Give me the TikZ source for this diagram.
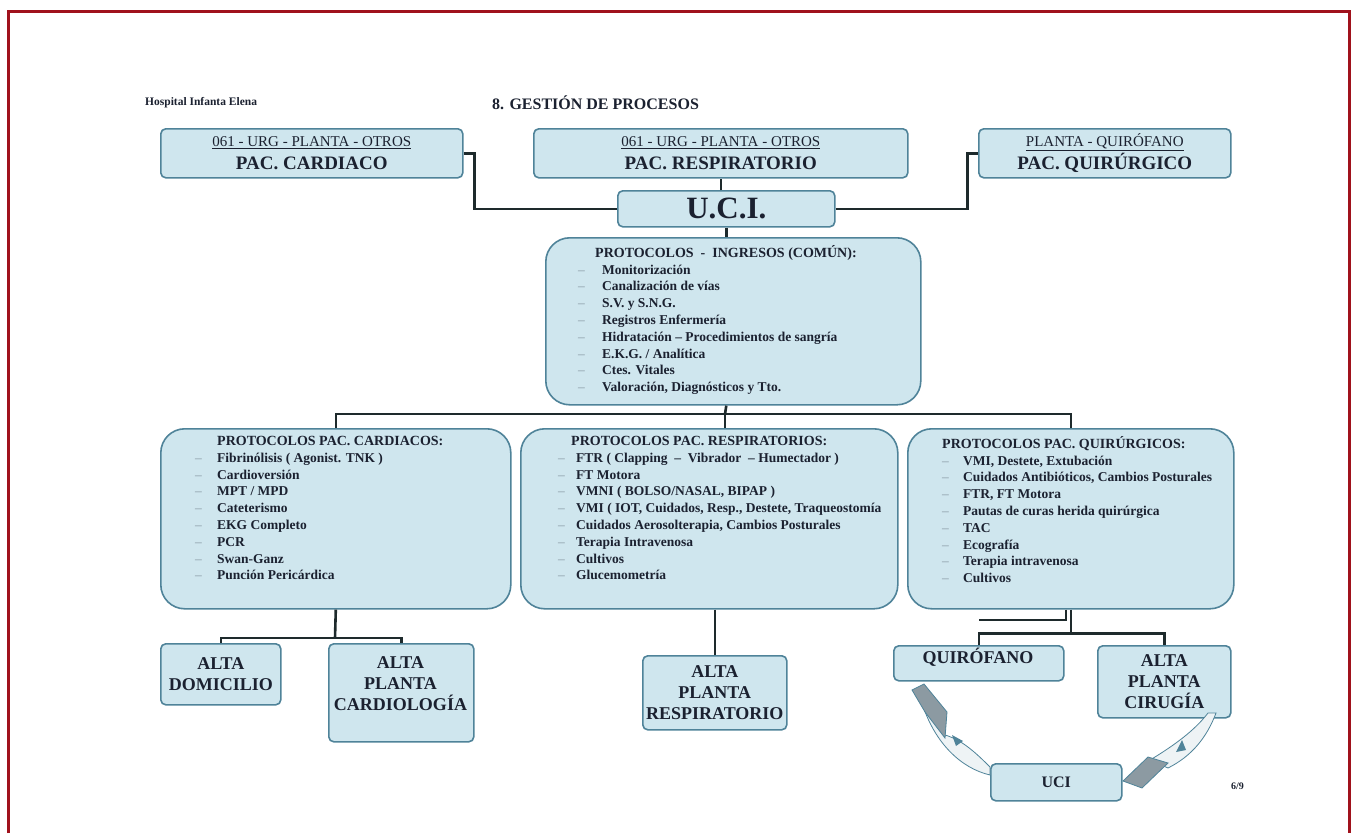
\documentclass[tikz,border=0pt]{standalone}
\usepackage{fontspec}
\setmainfont{Liberation Serif}
\usetikzlibrary{arrows.meta}
\definecolor{boxfill}{HTML}{CFE6EE}
\definecolor{boxline}{HTML}{4F8399}
\definecolor{connc}{HTML}{1E2A2C}
\definecolor{txt}{HTML}{1B2130}
\definecolor{framec}{HTML}{A0121C}
\definecolor{bulc}{HTML}{8A9AA6}
\definecolor{ribgray}{HTML}{8C9AA2}
\definecolor{ribfill}{HTML}{EEF3F5}
\newcommand\itm[2]{\makebox[#1pt][l]{\textcolor{bulc}{\mdseries –}}#2}
\newcommand\ptitle[1]{{\fontsize{14}{16.8}\selectfont #1}}
\begin{document}
\begin{tikzpicture}[x=1pt,y=-1pt,
  box/.style={draw=boxline, fill=boxfill, line width=1.6pt, rounded corners=5pt,
    anchor=north west, inner sep=0pt, text=txt, align=center},
  bigbox/.style={box, rounded corners=24pt},
  conn/.style={draw=connc, line width=2.6pt},
  lst/.style={anchor=north west, inner sep=0pt, align=left, text=txt,
    font=\fontsize{13.5}{16.8}\selectfont\bfseries},
  btxt/.style={inner sep=0pt, align=center, text=txt,
    font=\fontsize{18}{21}\selectfont\bfseries},
  toptxt/.style={font=\fontsize{19}{23}\selectfont\bfseries},
]
\useasboundingbox (0,0) rectangle (1357,833);
\fill[white] (0,0) rectangle (1357,833);
\draw[framec, line width=3pt] (8,833) -- (8,11) -- (1349,11) -- (1349,833);

% header
\node[anchor=west, inner sep=0pt, text=txt, font=\fontsize{11.5}{13}\selectfont\bfseries] (hosp) at (145,103) {Hospital Infanta Elena};
\node[anchor=west, inner sep=0pt, text=txt, font=\fontsize{16}{18}\selectfont\bfseries] (title) at (492,103) {8. GESTIÓN DE PROCESOS};

% top boxes
\node[box, toptxt, minimum width=302pt, minimum height=49pt] (pc) at (160,128)
  {{\fontsize{15}{17}\selectfont\mdseries\underline{061 - URG - PLANTA - OTROS}}\\ PAC. CARDIACO};
\node[box, toptxt, minimum width=374pt, minimum height=49pt] (pr) at (533,128)
  {{\fontsize{15}{17}\selectfont\mdseries\underline{061 - URG - PLANTA - OTROS}}\\ PAC. RESPIRATORIO};
\node[box, toptxt, minimum width=252pt, minimum height=49pt] (pq) at (978,128)
  {{\fontsize{15}{17}\selectfont\mdseries\underline{PLANTA - QUIRÓFANO}}\\ PAC. QUIRÚRGICO};

\node[box, minimum width=217pt, minimum height=36pt, font=\fontsize{31}{31}\selectfont\bfseries] (uci) at (617,190) {U.C.I.};

% common protocols
\node[bigbox, minimum width=375pt, minimum height=167pt] (com) at (545,237) {};
\node[lst] (comtxt) at (578,245) {\hspace*{17pt}\ptitle{PROTOCOLOS \ - \ INGRESOS (COMÚN):}\\
\itm{24}{Monitorización}\\
\itm{24}{Canalización de vías}\\
\itm{24}{S.V. y S.N.G.}\\
\itm{24}{Registros Enfermería}\\
\itm{24}{Hidratación – Procedimientos de sangría}\\
\itm{24}{E.K.G. / Analítica}\\
\itm{24}{Ctes. Vitales}\\
\itm{24}{Valoración, Diagnósticos y Tto.}};

% three protocol boxes
\node[bigbox, minimum width=350pt, minimum height=180pt] (pl) at (160,428) {};
\node[lst] (pltxt) at (195,436) {\hspace*{22pt}\ptitle{PROTOCOLOS PAC. CARDIACOS:}\\
\itm{22}{Fibrinólisis ( Agonist. TNK )}\\
\itm{22}{Cardioversión}\\
\itm{22}{MPT / MPD}\\
\itm{22}{Cateterismo}\\
\itm{22}{EKG Completo}\\
\itm{22}{PCR}\\
\itm{22}{Swan-Ganz}\\
\itm{22}{Punción Pericárdica}};

\node[bigbox, minimum width=377pt, minimum height=180pt] (pm) at (520,428) {};
\node[lst] (pmtxt) at (558,436) {\hspace*{13pt}\ptitle{PROTOCOLOS PAC. RESPIRATORIOS:}\\
\itm{18}{FTR ( Clapping \ – \ Vibrador \ – Humectador )}\\
\itm{18}{FT Motora}\\
\itm{18}{VMNI ( BOLSO/NASAL, BIPAP )}\\
\itm{18}{VMI ( IOT, Cuidados, Resp., Destete, Traqueostomía}\\
\itm{18}{Cuidados Aerosolterapia, Cambios Posturales}\\
\itm{18}{Terapia Intravenosa}\\
\itm{18}{Cultivos}\\
\itm{18}{Glucemometría}};

\node[bigbox, minimum width=326pt, minimum height=180pt] (pr2) at (907,428) {};
\node[lst] (pr2txt) at (942,436) {\ptitle{PROTOCOLOS PAC. QUIRÚRGICOS:}\\
\itm{21}{VMI, Destete, Extubación}\\
\itm{21}{Cuidados Antibióticos, Cambios Posturales}\\
\itm{21}{FTR, FT Motora}\\
\itm{21}{Pautas de curas herida quirúrgica}\\
\itm{21}{TAC}\\
\itm{21}{Ecografía}\\
\itm{21}{Terapia intravenosa}\\
\itm{21}{Cultivos}};

% bottom boxes
\node[box, btxt, minimum width=120pt, minimum height=61pt] (ad) at (160,643) {ALTA\\DOMICILIO};
\node[box, minimum width=145pt, minimum height=98pt] (apc) at (328,643) {};
\node[btxt] (apct) at (400.5,684) {ALTA\\PLANTA\\CARDIOLOGÍA};
\node[box, btxt, minimum width=144pt, minimum height=74pt] (apr) at (642,655) {ALTA\\PLANTA\\RESPIRATORIO};
\node[box, minimum width=170pt, minimum height=35pt] (quir) at (893,645) {};
\node[btxt] (quirt) at (978,657) {QUIRÓFANO};
\node[box, btxt, minimum width=133pt, minimum height=72pt] (apcir) at (1097,645) {ALTA\\PLANTA\\CIRUGÍA};
\node[box, minimum width=131pt, minimum height=37pt, font=\fontsize{16}{18}\selectfont\bfseries] (uci2) at (990,763) {UCI};

\node[anchor=west, inner sep=0pt, text=txt, font=\fontsize{10}{12}\selectfont\bfseries] (pg) at (1231,786) {6/9};

% connectors
\draw[conn] (pc.east) -- ++(11,0) |- (uci.west);
\draw[conn] (uci.north -| pr.south) -- (pr.south);
\draw[conn] (uci.east) -- ++(132,0) |- (pq.west);
\draw[conn] (uci.south) -- (uci.south |- com.north);
\coordinate (busc) at (725,414);
\draw[conn] (uci.south |- com.south) -- (busc);
\draw[conn] (pl.north) |- (busc) -| (pr2.north);
\draw[conn] (busc) -- (busc |- pm.north);
\coordinate (lbus) at (335,638);
\draw[conn] (pl.south) -- (lbus);
\draw[conn] (ad.north) |- (lbus) -| (apc.north);
\draw[conn] (apr.north |- pm.south) -- (apr.north);
\draw[conn] (pr2.south) -- ++(0,24) coordinate (rbus);
\draw[conn] (quir.north) |- (rbus) -| (apcir.north);
\draw[conn] ([xshift=-5pt]pr2.south) |- ([yshift=25pt]quir.north);

% curved ribbons
\fill[ribfill, draw=boxline, line width=0.8pt]
  (923,706) .. controls (935,742) and (960,768) .. (990,775)
  -- (990,767) .. controls (975,752) and (962,740) .. (945,735) -- cycle;
\fill[ribgray, draw=boxline, line width=0.8pt]
  (912,690) -- (924,684) -- (947,712) -- (945,738) -- (925,712) -- cycle;
\fill[boxline] (952,735) -- (963,741) -- (956,746) -- cycle;

\fill[ribfill, draw=boxline, line width=0.8pt]
  (1150,760) .. controls (1175,745) and (1195,730) .. (1208,713)
  -- (1216,713) .. controls (1207,737) and (1192,756) .. (1168,768) -- cycle;
\fill[ribgray, draw=boxline, line width=0.8pt]
  (1123,781) -- (1148,757) -- (1168,763) -- (1142,788) -- cycle;
\fill[boxline] (1176,752) -- (1182,740) -- (1186,750) -- cycle;
\end{tikzpicture}
\end{document}
